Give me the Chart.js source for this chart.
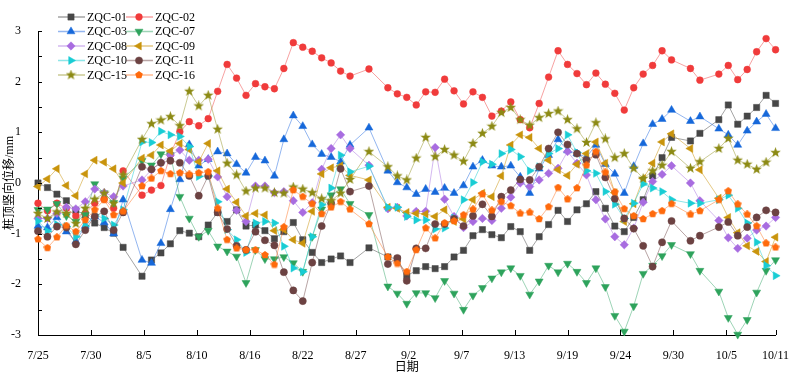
<!DOCTYPE html>
<html>
<head>
<meta charset="utf-8">
<script src="https://cdn.jsdelivr.net/npm/chart.js@4.4.1/dist/chart.umd.min.js"></script>
<style>
    html, body { margin: 0; padding: 0; background: #fff; }
    #wrap { width: 795px; height: 381px; }
</style>
</head>
<body>
<div id="wrap"><canvas id="pileTopChart" width="795" height="381"></canvas></div>
<script>
// Days since 7/25 on which readings were taken
const dayOffsets = [
    0, 1, 2, 3, 4, 5, 6, 7, 8, 9,
    11, 12, 13, 14, 15, 16, 17, 18, 19, 20,
    21, 22, 23, 24, 25, 26, 27, 28, 29, 30,
    31, 32, 33, 35, 37, 38, 39, 40, 41, 42,
    43, 44, 45, 46, 47, 48, 49, 50, 51, 52,
    53, 54, 55, 56, 57, 58, 59, 60, 61, 62,
    63, 64, 65, 66, 67, 69, 70, 72, 73, 74,
    75, 76, 77, 78,
];

const tickLabels = ['7/25', '7/30', '8/5', '8/10', '8/16', '8/22', '8/27', '9/2', '9/7', '9/13', '9/19', '9/24', '9/30', '10/5', '10/11'];

const seriesNames = ['ZQC-01', 'ZQC-02', 'ZQC-03', 'ZQC-07', 'ZQC-08', 'ZQC-09', 'ZQC-10', 'ZQC-11', 'ZQC-15', 'ZQC-16'];

const zqc01 = [
    0.0, -0.09, -0.22, -0.35, -0.54, -0.63, -0.79, -0.88, -0.99, -1.27,
    -1.84, -1.52, -1.38, -1.2, -0.94, -0.99, -1.06, -0.83, -0.58, -0.76,
    -0.53, -0.85, -0.83, -0.94, -1.1, -0.96, -0.78, -1.12, -1.37, -1.57,
    -1.5, -1.44, -1.57, -1.28, -1.46, -1.5, -1.83, -1.73, -1.65, -1.69,
    -1.65, -1.46, -1.33, -1.04, -0.92, -1.02, -1.08, -0.86, -0.96, -1.33,
    -1.06, -0.82, -0.54, -0.76, -0.53, -0.41, -0.17, -0.5, -0.85, -0.96,
    -0.68, -0.33, 0.14, 0.5, 0.9, 0.83, 0.98, 1.25, 1.54, 1.16,
    1.32, 1.49, 1.73, 1.57,
];
const zqc02 = [
    -0.4, -0.55, -0.4, -0.5, -0.65, -0.6, -0.4, -0.32, -0.5, 0.24,
    -0.24, -0.14, -0.05, 0.56, 1.01, 1.21, 1.13, 1.27, 1.81, 2.34,
    2.07, 1.73, 1.96, 1.9, 1.86, 2.26, 2.77, 2.68, 2.6, 2.47,
    2.37, 2.21, 2.11, 2.25, 1.88, 1.76, 1.69, 1.54, 1.8, 1.79,
    2.05, 1.82, 1.56, 1.8, 1.69, 1.32, 1.42, 1.6, 1.25, 1.09,
    1.57, 2.09, 2.61, 2.34, 2.16, 1.94, 2.17, 1.95, 1.77, 1.44,
    1.88, 2.15, 2.32, 2.61, 2.43, 2.26, 2.03, 2.15, 2.32, 2.04,
    2.24, 2.59, 2.85, 2.63,
];
const zqc03 = [
    -0.85, -0.88, -0.68, -0.96, -1.15, -0.85, -0.66, -0.78, -1.0, -0.33,
    -1.52, -1.58, -1.19, -0.52, 0.07, 0.76, 0.34, 0.47, 0.62, 0.58,
    0.37, 0.2, 0.51, 0.44, 0.14, 0.86, 1.33, 1.12, 0.76, 0.57,
    0.51, 0.42, 0.75, 1.09, 0.24, 0.01, -0.09, -0.22, -0.12, -0.18,
    -0.1, -0.2, -0.05, 0.32, 0.45, 0.34, 0.32, 0.34, 0.12, -0.2,
    0.28, 0.55, 0.86, 0.64, 0.58, 0.51, 0.75, 0.37, 0.18, -0.2,
    0.33, 0.78, 1.16, 1.26, 1.44, 1.22, 1.31, 1.07, 0.95, 0.75,
    1.03, 1.21, 1.36, 1.08,
];
const zqc07 = [
    -0.53, -0.52, -0.41, -0.65, -0.76, -0.63, -0.02, -0.2, -0.39, 0.09,
    0.44, 0.35, 0.57, 0.55, -0.27, -0.7, -1.06, -0.94, -1.25, -1.35,
    -1.45, -1.97, -1.32, -1.5, -1.5, -1.46, -1.58, -1.75, -1.06, -0.52,
    -0.24, -0.12, -0.41, -0.63, -2.04, -2.18, -2.38, -2.17, -2.17, -2.27,
    -1.93, -2.18, -2.5, -2.22, -2.07, -1.88, -1.76, -1.68, -1.83, -2.2,
    -1.94, -1.63, -1.76, -1.59, -1.75, -1.97, -1.68, -2.05, -2.62, -2.93,
    -2.43, -1.79, -1.63, -1.44, -1.22, -1.4, -1.73, -2.14, -2.66, -2.99,
    -2.7, -2.16, -1.73, -1.52,
];
const zqc08 = [
    -0.7, -0.7, -0.6, -0.48, -0.51, -0.37, -0.12, -0.19, -0.27, -0.06,
    0.06, 0.26, 0.4, 0.55, 0.65, 0.45, 0.45, 0.47, 0.12, -0.27,
    -0.54, -0.76, -0.06, -0.06, -0.19, -0.17, -0.35, -0.58, -0.39, 0.27,
    0.68, 0.95, 0.68, 0.35, -0.51, -0.48, -0.65, -0.56, -0.56, 0.7,
    -0.32, -0.66, -0.88, -0.76, -0.7, -0.74, -0.5, -0.28, 0.0, -0.07,
    0.06, 0.19, 0.29, 0.62, 0.39, 0.16, -0.33, -0.71, -1.06, -1.22,
    -0.89, -0.38, 0.03, 0.17, 0.34, 0.0, -0.35, -0.74, -1.08, -1.29,
    -1.09, -0.93, -0.85, -0.68,
];
const zqc09 = [
    -0.07, 0.08, 0.28, -0.05, -0.25, 0.18, 0.45, 0.41, 0.28, 0.0,
    0.49, 0.55, 0.75, 0.63, 0.78, 0.66, 0.42, 0.78, 0.24, -0.12,
    -0.38, -0.65, -0.6, -0.63, -0.94, -0.92, -1.12, -1.19, -0.56, 0.18,
    0.3, 0.34, 0.15, 0.06, -0.48, -0.5, -0.58, -0.6, -0.61, -0.66,
    -0.53, -0.76, -0.71, -0.33, -0.2, -0.27, 0.14, 0.75, 0.95, 0.9,
    0.68, 0.45, 0.26, 0.15, 0.37, 0.58, 0.81, 0.39, -0.19, -0.76,
    -0.41, 0.09, 0.39, 0.81, 0.97, 0.68, 0.26, -0.3, -0.68, -0.98,
    -1.24, -1.35, -1.55, -1.07,
];
const zqc10 = [
    -0.75, -0.95, -0.82, -0.86, -1.06, -0.85, -0.63, -0.7, -0.83, -0.53,
    0.81, 0.8, 1.02, 0.95, 0.92, 0.72, 0.13, 0.14, -0.37, -0.92,
    -1.12, -1.37, -0.79, -0.76, -0.79, -1.25, -1.68, -1.75, -1.06, -0.43,
    -0.1, 0.55, 0.22, 0.33, -0.48, -0.48, -0.66, -0.73, -0.73, -0.91,
    -0.89, -0.69, -0.33, 0.01, 0.42, 0.37, 0.58, 0.66, 0.52, 0.24,
    0.32, 0.58, 0.68, 0.95, 0.6, 0.24, 0.19, -0.17, -0.42, -0.7,
    -0.4, -0.02, -0.1, -0.17, -0.33, -0.4, -0.4, -0.33, -0.24, -0.5,
    -0.79, -1.17, -1.63, -1.83,
];
const zqc11 = [
    -0.95, -1.06, -0.86, -0.88, -1.21, -0.93, -0.66, -0.56, -0.93, -0.58,
    0.32, 0.27, 0.4, 0.44, 0.4, 0.14, -0.25, 0.14, -0.58, -0.91,
    -1.24, -1.32, -0.96, -1.13, -1.23, -1.76, -2.12, -2.33, -1.57, -0.85,
    -0.4, 0.28, -0.17, -0.06, -1.6, -1.48, -1.93, -1.29, -1.29, -0.81,
    -0.81, -0.71, -0.85, -0.65, -0.42, -0.66, -0.27, -0.14, 0.07, 0.06,
    0.32, 0.68, 1.0, 0.76, 0.58, 0.45, 0.56, 0.11, -0.31, -0.7,
    -0.9, -1.24, -1.65, -1.17, -0.75, -1.14, -1.04, -0.87, -0.77, -1.04,
    -0.87, -0.68, -0.54, -0.58,
];
const zqc15 = [
    -0.6, -0.7, -0.57, -0.6, -0.8, -0.5, -0.32, -0.2, -0.4, 0.16,
    0.86, 1.17, 1.24, 1.31, 1.13, 1.81, 1.52, 1.73, 1.06, 0.39,
    0.16, -0.16, -0.1, -0.1, -0.19, -0.2, -0.08, -0.12, -0.19, -0.31,
    -0.35, -0.2, 0.07, 0.62, 0.32, 0.14, 0.06, 0.49, 0.9, 0.52,
    0.66, 0.55, 0.43, 0.78, 0.98, 1.12, 1.39, 1.49, 1.25, 1.14,
    1.29, 1.37, 1.42, 1.25, 1.07, 0.8, 1.19, 0.87, 0.5, 0.58,
    0.29, 0.09, 0.24, 0.35, 0.62, 0.29, 0.42, 0.68, 0.88, 0.45,
    0.37, 0.27, 0.41, 0.6,
];
const zqc16 = [
    -1.11, -1.28, -1.07, -0.84, -0.96, -0.73, -0.53, -0.33, -0.63, -0.56,
    -0.06, 0.09, 0.24, 0.18, 0.2, 0.17, 0.2, 0.22, -0.5, -1.12,
    -1.29, -1.32, -1.32, -1.42, -1.61, -0.87, -0.14, -0.27, -0.41, -0.61,
    -0.48, -0.37, -0.52, -0.81, -1.46, -1.59, -1.75, -1.32, -0.89, -1.09,
    -0.79, -0.75, -0.63, -0.52, -0.22, -0.54, -0.37, -0.45, -0.6, -0.58,
    -0.71, -0.47, -0.09, -0.32, -0.1, 0.35, 0.62, 0.21, -0.18, -0.51,
    -0.65, -0.71, -0.61, -0.55, -0.41, -0.62, -0.55, -0.33, -0.16, -0.42,
    -0.62, -0.85, -1.19, -1.27,
];

const seriesValues = [zqc01, zqc02, zqc03, zqc07, zqc08, zqc09, zqc10, zqc11, zqc15, zqc16];

const SERIF = '"Liberation Serif", "Times New Roman", "Noto Sans CJK SC", serif';

function shapeCanvas(points, innerRatio, size, color) {
    const c = document.createElement('canvas');
    c.width = size;
    c.height = size;
    const g = c.getContext('2d');
    const n = innerRatio ? points * 2 : points;
    const outer = size / 2;
    g.fillStyle = color;
    g.beginPath();
    for (let k = 0; k < n; k++) {
        const r = innerRatio && k % 2 ? outer * innerRatio : outer;
        const a = -Math.PI / 2 + (k * 2 * Math.PI) / n;
        g.lineTo(outer + r * Math.cos(a), outer + r * Math.sin(a));
    }
    g.closePath();
    g.fill();
    return c;
}

// marker colour, line colour, point style, radius, rotation
const styles = [
    { c: '#474747', l: 'rgba(90, 90, 90, 0.55)', s: 'rect', r: 4.4, rot: 0 },
    { c: '#f03b3b', l: 'rgba(240, 70, 70, 0.5)', s: 'circle', r: 3.4, rot: 0 },
    { c: '#1668da', l: 'rgba(40, 110, 225, 0.5)', s: 'triangle', r: 4.6, rot: 0 },
    { c: '#2ea35c', l: 'rgba(60, 170, 110, 0.5)', s: 'triangle', r: 4.6, rot: 180 },
    { c: '#a86ce0', l: 'rgba(170, 115, 225, 0.5)', s: 'rectRot', r: 4.2, rot: 0 },
    { c: '#c9940c', l: 'rgba(205, 155, 30, 0.55)', s: 'triangle', r: 4.6, rot: 270 },
    { c: '#19cdd4', l: 'rgba(30, 205, 210, 0.5)', s: 'triangle', r: 4.6, rot: 90 },
    { c: '#6c4242', l: 'rgba(115, 75, 75, 0.5)', s: 'circle', r: 3.6, rot: 0 },
    { c: '#8c8a14', l: 'rgba(150, 150, 40, 0.5)', s: shapeCanvas(5, 0.42, 11, '#8c8a14'), r: 5, rot: 0 },
    { c: '#ff6a0c', l: 'rgba(255, 120, 40, 0.5)', s: shapeCanvas(5, 0, 8, '#ff6a0c'), r: 4, rot: 0 },
];

const tickStep = 5.6;
const xMax = 78;
const tickValues = tickLabels.map((label, i) => (i === tickLabels.length - 1 ? xMax : i * tickStep));

const datasets = seriesNames.map((name, i) => ({
    label: name,
    data: seriesValues[i].map((v, k) => ({ x: dayOffsets[k], y: v })),
    borderColor: styles[i].l,
    borderWidth: 1,
    backgroundColor: styles[i].c,
    pointBackgroundColor: styles[i].c,
    pointBorderColor: styles[i].c,
    pointBorderWidth: 0.5,
    pointStyle: styles[i].s,
    pointRotation: styles[i].rot,
    pointRadius: styles[i].r,
    tension: 0,
    clip: false,
    order: -i,
}));

const inwardTicks = {
    id: 'inwardTicks',
    afterDraw(chart) {
        const { ctx, chartArea, scales } = chart;
        ctx.save();
        ctx.strokeStyle = '#000';
        ctx.lineWidth = 1;
        ctx.beginPath();
        scales.x.ticks.forEach((t) => {
            const px = Math.round(scales.x.getPixelForValue(t.value)) + 0.5;
            ctx.moveTo(px, chartArea.bottom);
            ctx.lineTo(px, chartArea.bottom - 5);
        });
        scales.y.ticks.forEach((t) => {
            const py = Math.round(scales.y.getPixelForValue(t.value)) + 0.5;
            ctx.moveTo(chartArea.left, py);
            ctx.lineTo(chartArea.left + 4, py);
        });
        ctx.stroke();
        ctx.restore();
    },
};

const twoColumnLegend = {
    id: 'twoColumnLegend',
    afterDraw(chart) {
        const ctx = chart.ctx;
        ctx.save();
        ctx.font = '12px ' + SERIF;
        ctx.textBaseline = 'middle';
        chart.data.datasets.forEach((ds, i) => {
            const x0 = 58 + (i % 2) * 68;
            const y = 17 + Math.floor(i / 2) * 14.5;
            ctx.strokeStyle = ds.borderColor;
            ctx.lineWidth = 1.5;
            ctx.beginPath();
            ctx.moveTo(x0, y);
            ctx.lineTo(x0 + 27, y);
            ctx.stroke();
            ctx.fillStyle = ds.pointBackgroundColor;
            ctx.strokeStyle = ds.pointBorderColor;
            ctx.lineWidth = 0.5;
            Chart.helpers.drawPoint(ctx, {
                pointStyle: ds.pointStyle,
                rotation: ds.pointRotation,
                radius: ds.pointRadius,
                borderWidth: 0.5,
            }, x0 + 13, y);
            ctx.fillStyle = '#000';
            ctx.fillText(ds.label, x0 + 29, y + 0.5);
        });
        ctx.restore();
    },
};

Chart.defaults.font.family = SERIF;
Chart.defaults.font.size = 12;
Chart.defaults.color = '#000';

new Chart(document.getElementById('pileTopChart').getContext('2d'), {
    type: 'line',
    data: { datasets },
    options: {
        responsive: false,
        animation: false,
        devicePixelRatio: 1,
        layout: { padding: { top: 31, right: 17, left: 0, bottom: 0 } },
        plugins: {
            legend: { display: false },
            tooltip: { enabled: false },
        },
        scales: {
            x: {
                type: 'linear',
                min: 0,
                max: xMax,
                afterFit: (scale) => { scale.height = 46; },
                afterBuildTicks: (scale) => {
                    scale.ticks = tickValues.map((v) => ({ value: v }));
                },
                grid: { display: false },
                border: { display: true, color: '#000', width: 1 },
                ticks: {
                    autoSkip: false,
                    maxRotation: 0,
                    padding: 6,
                    callback: (value, index) => tickLabels[index],
                },
                title: {
                    display: true,
                    text: '日期',
                    padding: { top: 0, bottom: 6 },
                },
            },
            y: {
                min: -3,
                max: 3,
                afterFit: (scale) => { scale.width = 38; },
                grid: { display: false },
                border: { display: true, color: '#000', width: 1 },
                ticks: {
                    stepSize: 0.5,
                    padding: 9,
                    callback: (value) => (Number.isInteger(value) ? String(value) : ''),
                },
                title: {
                    display: true,
                    text: '桩顶竖向位移/mm',
                    padding: { top: 3, bottom: 0 },
                },
            },
        },
    },
    plugins: [inwardTicks, twoColumnLegend],
});
</script>
</body>
</html>
